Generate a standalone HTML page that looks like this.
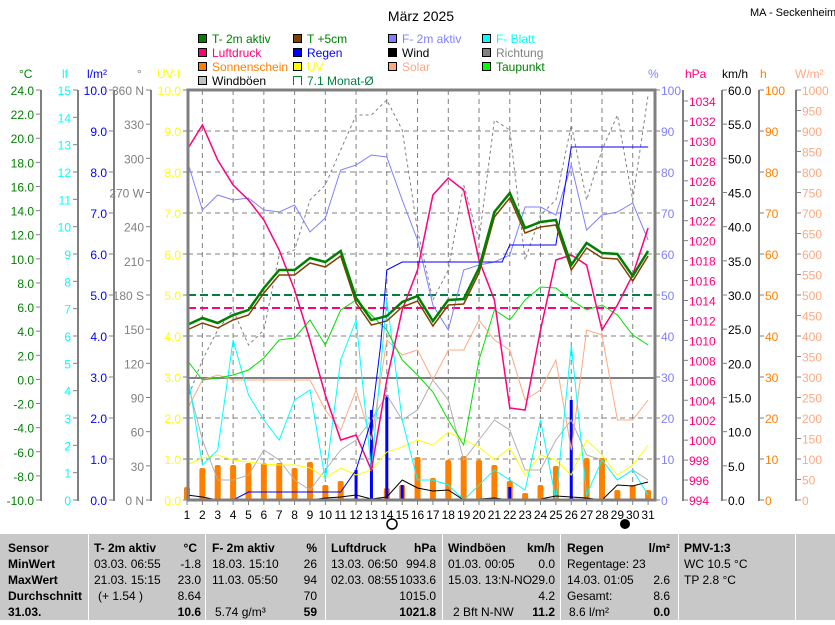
<!DOCTYPE html>
<html><head><meta charset="utf-8"><style>
body{margin:0;background:#fff;width:835px;height:620px;overflow:hidden;font-family:"Liberation Sans",sans-serif}
svg text{font-family:"Liberation Sans",sans-serif;font-size:12px}
</style></head><body>
<svg width="835" height="620" viewBox="0 0 835 620" xmlns="http://www.w3.org/2000/svg">
<rect width="835" height="620" fill="#fff"/>
<text x="421" y="21" text-anchor="middle" font-size="14" style="font-size:14px">März 2025</text>
<text x="750" y="16" style="font-size:11px">MA - Seckenheim</text>
<!-- legend -->
<g style="font-size:12px">
<rect x="198.5" y="34.5" width="8" height="8" fill="#008000" stroke="#000"/><text x="212" y="43" fill="#008000">T- 2m aktiv</text>
<rect x="293.5" y="34.5" width="8" height="8" fill="#804000" stroke="#000"/><text x="307" y="43" fill="#008000">T +5cm</text>
<rect x="388.5" y="34.5" width="8" height="8" fill="#8080ff" stroke="#000"/><text x="402" y="43" fill="#8080ff">F- 2m aktiv</text>
<rect x="482.5" y="34.5" width="8" height="8" fill="#00ffff" stroke="#000"/><text x="496" y="43" fill="#00ffff">F- Blatt</text>
<rect x="198.5" y="48.5" width="8" height="8" fill="#ff0080" stroke="#000"/><text x="212" y="57" fill="#ff0080">Luftdruck</text>
<rect x="293.5" y="48.5" width="8" height="8" fill="#0000ff" stroke="#000"/><text x="307" y="57" fill="#0000ff">Regen</text>
<rect x="388.5" y="48.5" width="8" height="8" fill="#000" stroke="#000"/><text x="402" y="57" fill="#000">Wind</text>
<rect x="482.5" y="48.5" width="8" height="8" fill="#808080" stroke="#000"/><text x="496" y="57" fill="#808080">Richtung</text>
<rect x="198.5" y="62.5" width="8" height="8" fill="#ff8000" stroke="#000"/><text x="212" y="71" fill="#ff8000">Sonnenschein</text>
<rect x="293.5" y="62.5" width="8" height="8" fill="#ffff00" stroke="#000"/><text x="307" y="71" fill="#ffff00">UV</text>
<rect x="388.5" y="62.5" width="8" height="8" fill="#ffa880" stroke="#000"/><text x="402" y="71" fill="#ffa880">Solar</text>
<rect x="482.5" y="62.5" width="8" height="8" fill="#00ff00" stroke="#000"/><text x="496" y="71" fill="#008000">Taupunkt</text>
<rect x="198.5" y="76.5" width="8" height="8" fill="#c0c0c0" stroke="#000"/><text x="212" y="85" fill="#000">Windböen</text>
<path d="M301.5 85V76.5H293.5V85" fill="none" stroke="#008040"/><text x="307" y="85" fill="#008040">7.1 Monat-Ø</text>
</g>
<!-- unit headers -->
<g style="font-size:11px">
<text x="19" y="78" fill="#008000">°C</text><text x="62" y="78" fill="#00ffff">lf</text><text x="87" y="78" fill="#0000ff">l/m²</text><text x="137" y="78" fill="#808080">°</text><text x="157" y="78" fill="#ffff00">UV-I</text>
<text x="648" y="78" fill="#8080ff">%</text><text x="685" y="78" fill="#ff0080">hPa</text><text x="722" y="78" fill="#000">km/h</text><text x="760" y="78" fill="#ff8000">h</text><text x="795" y="78" fill="#ffa880">W/m²</text>
</g>
<!-- axes -->
<g stroke="#808080" stroke-width="2"><line x1="41" y1="90" x2="41" y2="501"/><line x1="78" y1="90" x2="78" y2="501"/><line x1="114" y1="90" x2="114" y2="501"/><line x1="151" y1="90" x2="151" y2="501"/><line x1="683" y1="90" x2="683" y2="501"/><line x1="722" y1="90" x2="722" y2="501"/><line x1="759" y1="90" x2="759" y2="501"/><line x1="796" y1="90" x2="796" y2="501"/></g>
<g id="ax" style="font-size:12px"></g>
<!-- plot frame & grid -->
<g stroke="#808080" stroke-dasharray="5,4" stroke-width="1">
<line x1="188" y1="131" x2="655" y2="131"/><line x1="188" y1="172" x2="655" y2="172"/><line x1="188" y1="213" x2="655" y2="213"/><line x1="188" y1="254" x2="655" y2="254"/><line x1="188" y1="336" x2="655" y2="336"/><line x1="188" y1="418" x2="655" y2="418"/><line x1="188" y1="459" x2="655" y2="459"/>
</g>
<g id="vg" stroke="#808080" stroke-dasharray="5,4"></g>
<line x1="188" y1="295" x2="655" y2="295" stroke="#008040" stroke-dasharray="8,4" stroke-width="2"/>
<line x1="188" y1="308" x2="655" y2="308" stroke="#ff0080" stroke-dasharray="8,4" stroke-width="2"/>
<line x1="188" y1="378" x2="655" y2="378" stroke="#808080" stroke-width="2"/>
<g id="bars"></g>
<g id="lines" fill="none"></g>
<rect x="188" y="90" width="467" height="410" fill="none" stroke="#808080" stroke-width="3"/>
<g id="xl" style="font-size:12px"></g>
<circle cx="392" cy="524" r="5" fill="#fff" stroke="#000" stroke-width="1.5"/>
<circle cx="625" cy="524" r="5" fill="#000"/>
<!-- table -->
<rect x="0" y="533" width="835" height="87" fill="#c8c8c8"/>
<g stroke="#fff" stroke-width="1"><line x1="0" y1="533.5" x2="835" y2="533.5"/><line x1="88.5" y1="533" x2="88.5" y2="620"/><line x1="205.5" y1="533" x2="205.5" y2="620"/><line x1="325.5" y1="533" x2="325.5" y2="620"/><line x1="442.5" y1="533" x2="442.5" y2="620"/><line x1="560.5" y1="533" x2="560.5" y2="620"/><line x1="678.5" y1="533" x2="678.5" y2="620"/><line x1="795.5" y1="533" x2="795.5" y2="620"/></g>
<g style="font-size:11px" fill="#000">
<text x="8" y="552" font-weight="bold">Sensor</text><text x="8" y="568" font-weight="bold">MinWert</text><text x="8" y="584" font-weight="bold">MaxWert</text><text x="8" y="600" font-weight="bold">Durchschnitt</text><text x="8" y="616" font-weight="bold">31.03.</text>
<text x="94" y="552" font-weight="bold">T- 2m aktiv</text><text x="197" y="552" text-anchor="end" font-weight="bold">°C</text>
<text x="94" y="568">03.03.  06:55</text><text x="201" y="568" text-anchor="end">-1.8</text>
<text x="94" y="584">21.03.  15:15</text><text x="201" y="584" text-anchor="end">23.0</text>
<text x="98" y="600">(+ 1.54 )</text><text x="201" y="600" text-anchor="end">8.64</text>
<text x="201" y="616" text-anchor="end" font-weight="bold" style="font-size:12px">10.6</text>
<text x="212" y="552" font-weight="bold">F- 2m aktiv</text><text x="317" y="552" text-anchor="end" font-weight="bold">%</text>
<text x="212" y="568">18.03.  15:10</text><text x="317" y="568" text-anchor="end">26</text>
<text x="212" y="584">11.03.  05:50</text><text x="317" y="584" text-anchor="end">94</text>
<text x="317" y="600" text-anchor="end">70</text>
<text x="215" y="616">5.74 g/m³</text><text x="317" y="616" text-anchor="end" font-weight="bold" style="font-size:12px">59</text>
<text x="331" y="552" font-weight="bold">Luftdruck</text><text x="436" y="552" text-anchor="end" font-weight="bold">hPa</text>
<text x="331" y="568">13.03.  06:50</text><text x="436" y="568" text-anchor="end">994.8</text>
<text x="331" y="584">02.03.  08:55</text><text x="436" y="584" text-anchor="end">1033.6</text>
<text x="436" y="600" text-anchor="end">1015.0</text>
<text x="436" y="616" text-anchor="end" font-weight="bold" style="font-size:12px">1021.8</text>
<text x="448" y="552" font-weight="bold">Windböen</text><text x="555" y="552" text-anchor="end" font-weight="bold">km/h</text>
<text x="448" y="568">01.03.  00:05</text><text x="555" y="568" text-anchor="end">0.0</text>
<text x="448" y="584">15.03.  13:N-NO</text><text x="555" y="584" text-anchor="end">29.0</text>
<text x="555" y="600" text-anchor="end">4.2</text>
<text x="453" y="616">2 Bft N-NW</text><text x="555" y="616" text-anchor="end" font-weight="bold" style="font-size:12px">11.2</text>
<text x="567" y="552" font-weight="bold">Regen</text><text x="670" y="552" text-anchor="end" font-weight="bold">l/m²</text>
<text x="567" y="568">Regentage: 23</text>
<text x="567" y="584">14.03.  01:05</text><text x="670" y="584" text-anchor="end">2.6</text>
<text x="567" y="600">Gesamt:</text><text x="670" y="600" text-anchor="end">8.6</text>
<text x="569" y="616">8.6 l/m²</text><text x="670" y="616" text-anchor="end" font-weight="bold" style="font-size:12px">0.0</text>
<text x="684" y="552" font-weight="bold">PMV-1:3</text>
<text x="684" y="568">WC 10.5 °C</text>
<text x="684" y="584">TP 2.8 °C</text>
</g>
</svg>
<script>
const NS="http://www.w3.org/2000/svg";
function el(p,t,a,txt){const e=document.createElementNS(NS,t);for(const k in a)e.setAttribute(k,a[k]);if(txt!==undefined)e.textContent=txt;document.getElementById(p).appendChild(e);return e;}
function axis(x,top,bot,vals,col,right){const n=vals.length-1;vals.forEach((v,i)=>{const y=top+(bot-top)*i/n;
 if(right){el("ax","line",{x1:x,y1:y,x2:x+5,y2:y,stroke:"#808080"});el("ax","text",{x:x+6,y:y+5,fill:col},v);}
 else{el("ax","line",{x1:x-5,y1:y,x2:x,y2:y,stroke:"#808080"});el("ax","text",{x:x-7,y:y+5,fill:col,"text-anchor":"end"},v);}});}
let a=[];for(let v=24;v>=-10;v-=2)a.push(v.toFixed(1));axis(41,90,500,a,"#008000");
a=[];for(let v=15;v>=0;v--)a.push(v);axis(78,90,500,a,"#00ffff");
a=[];for(let v=10;v>=0;v--)a.push(v.toFixed(1));axis(114,90,500,a,"#0000ff");
a=[];for(let v=360;v>=0;v-=30)a.push(v==360?"360 N":v==270?"270 W":v==180?"180 S":v==0?"0 N":String(v));axis(151,90,500,a,"#808080");
a=[];for(let v=10;v>=0;v--)a.push(v.toFixed(1));axis(188,90,500,a,"#ffff00");
a=[];for(let v=100;v>=0;v-=10)a.push(v);axis(655,90,500,a,"#8080ff",true);
a=[];for(let v=1034;v>=994;v-=2)a.push(v);axis(683,101,500,a,"#ff0080",true);
a=[];for(let v=60;v>=0;v-=5)a.push(v.toFixed(1));axis(722,90,500,a,"#000",true);
a=[];for(let v=100;v>=0;v-=10)a.push(v);axis(759,90,500,a,"#ff8000",true);
a=[];for(let v=1000;v>=0;v-=50)a.push(v);axis(796,90,500,a,"#ffa880",true);
const X=d=>187+(d-1)*15.37;
for(let d=2;d<=31;d+=2)el("vg","line",{x1:X(d),y1:90,x2:X(d),y2:500});
for(let d=1;d<=31;d++){el("xl","line",{x1:X(d),y1:500,x2:X(d),y2:505,stroke:"#808080"});el("xl","text",{x:X(d),y:519,"text-anchor":"middle"},d);}
const sun=[487,468,465,465,463,463,463,468,462,485,481,498,500,488,485,457,478,460,456,460,465,481,493,485,466,498,458,458,490,485,490];
sun.forEach((y,i)=>el("bars","rect",{x:X(i+1)-3,y:y,width:6,height:500-y,fill:"#ff8000",rx:2}));
[[12,470],[13,410],[14,395],[15,485],[22,487],[26,400]].forEach(([d,y])=>el("bars","line",{x1:X(d),y1:y,x2:X(d),y2:500,stroke:"#0000ff","stroke-width":3}));
function pl(arr,col,w,dash){const pts=arr.map((y,i)=>X(i+1).toFixed(1)+","+y).join(" ");const o={points:pts,stroke:col,"stroke-width":w||1,fill:"none"};if(dash)o["stroke-dasharray"]=dash;el("lines","polyline",o);}
pl([400,360,330,310,345,330,255,250,200,185,150,115,115,100,130,230,300,270,185,240,120,130,260,215,200,125,200,150,115,200,95],"#808080",1,"3,3");
pl([380,440,480,480,475,450,460,480,490,470,450,440,420,395,420,410,380,400,460,440,420,430,470,470,440,420,455,460,480,470,480],"#b0b0b0",1);
pl([465,458,455,460,462,464,465,465,468,478,468,475,470,452,447,440,445,432,440,447,460,448,475,455,460,475,440,455,475,465,445],"#ffff00",1);
pl([410,380,375,380,380,380,380,380,380,410,430,390,440,340,355,350,380,350,350,320,340,350,400,390,360,450,330,335,420,420,400],"#ffa880",1);
pl([370,465,450,340,395,420,440,400,390,480,360,320,470,300,420,480,480,485,500,485,470,480,490,420,500,345,495,460,480,470,495],"#00ffff",1);
pl([360,380,378,375,370,358,340,338,320,345,310,300,315,330,360,375,392,420,445,360,310,320,300,287,288,300,310,305,315,335,345],"#00e000",1);
pl([495,497,500,500,500,500,500,500,500,498,497,495,499,497,480,488,491,490,500,499,498,500,499,499,496,497,498,500,485,486,482],"#000",1);
pl([160,210,195,200,198,210,212,205,232,218,170,165,155,157,200,240,305,330,270,265,262,255,207,207,215,165,230,215,212,203,240],"#8080ff",1);
pl([150,125,160,185,200,220,250,290,340,395,440,435,470,380,310,270,195,178,190,260,300,408,410,330,260,255,265,330,305,275,228],"#ff0080",1.5);
el("lines","polyline",{points:[[1,500],[4,500],[5,492],[11,492],[12,470],[13,420],[13.6,345],[14,270],[15,262],[21.5,262],[22,245],[25,245],[26,147],[31,147]].map(p=>X(p[0])+","+p[1]).join(" "),stroke:"#0000ff",fill:"none"});
pl([330,323,328,320,315,293,275,275,263,267,256,303,325,321,307,301,326,305,304,273,217,198,233,227,225,270,248,258,259,281,256],"#804000",1.5);
pl([325,318,323,315,310,288,270,270,258,262,251,298,320,316,302,296,321,300,299,268,212,193,228,222,220,265,243,253,254,276,251],"#008000",2.5);
</script>
</body></html>
